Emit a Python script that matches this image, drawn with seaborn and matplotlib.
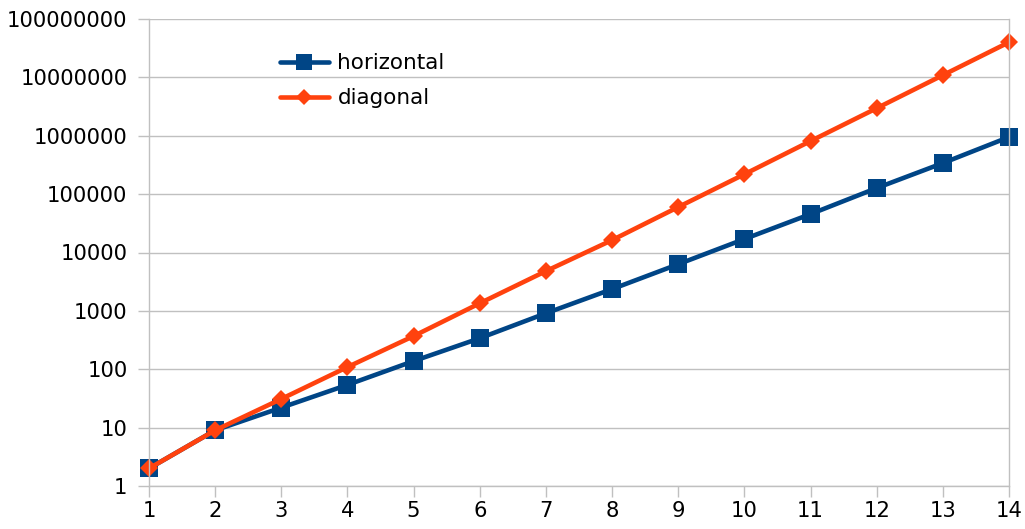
import numpy as np
import pandas as pd
import matplotlib.pyplot as plt
import seaborn as sns

## Данные
n = list(range(1, 15))
horizontal = [2, 9, 22, 54, 138, 340, 910, 2360, 6300, 17000, 45500, 127000, 340000, 950000]
diagonal = [2, 9, 31, 109, 370, 1350, 4800, 16300, 60000, 219000, 810000, 2960000, 10900000, 40000000]

df = pd.DataFrame({'n': n + n,
                   'value': horizontal + diagonal,
                   'series': ['horizontal'] * len(n) + ['diagonal'] * len(n)})

sns.set_style('white')
plt.rcParams['font.family'] = ['DejaVu Sans']

fig = plt.figure(figsize=(10.25, 5.29), dpi=100)
ax = fig.add_axes([149 / 1025, 1 - 486 / 529, (1009 - 149) / 1025, (486 - 19) / 529])

palette = {'horizontal': '#004586', 'diagonal': '#ff420e'}
sns.lineplot(data=df[df.series == 'horizontal'], x='n', y='value', ax=ax,
             color=palette['horizontal'], linewidth=3.3, marker='s',
             markersize=13, markeredgewidth=0, label='horizontal', clip_on=False)
sns.lineplot(data=df[df.series == 'diagonal'], x='n', y='value', ax=ax,
             color=palette['diagonal'], linewidth=3.3, marker='D',
             markersize=9.5, markeredgewidth=0, label='diagonal', clip_on=False)

ax.set_yscale('log')
ax.set_ylim(1, 1e8)
ax.set_xlim(1, 14)
ax.set_xticks(n)
ax.set_yticks([10 ** k for k in range(9)])
ax.set_yticklabels([str(10 ** k) for k in range(9)])
ax.yaxis.set_minor_locator(plt.NullLocator())
ax.set_xlabel('')
ax.set_ylabel('')

ax.grid(axis='y', color='#c0c0c0', linewidth=1)
ax.set_axisbelow(True)
ax.spines['top'].set_visible(False)
for side in ['left', 'right', 'bottom']:
    ax.spines[side].set_color('#c0c0c0')
    ax.spines[side].set_linewidth(1)
ax.tick_params(axis='both', which='major', length=8, width=1, color='#c0c0c0',
               labelsize=15.2, labelcolor='black', pad=7.5, left=True, bottom=True)
ax.tick_params(axis='x', direction='out', pad=3)

leg = ax.legend(loc='upper left', bbox_to_anchor=(0.142, 0.945), frameon=False,
                fontsize=15.5, handlelength=2.3, labelspacing=0.7, handletextpad=0.38,
                borderaxespad=0)
for t in leg.get_texts():
    t.set_color('black')
leg.legend_handles[0].set_markersize(11)
leg.legend_handles[1].set_markersize(8.5)

fig.savefig('out.png', dpi=100)
